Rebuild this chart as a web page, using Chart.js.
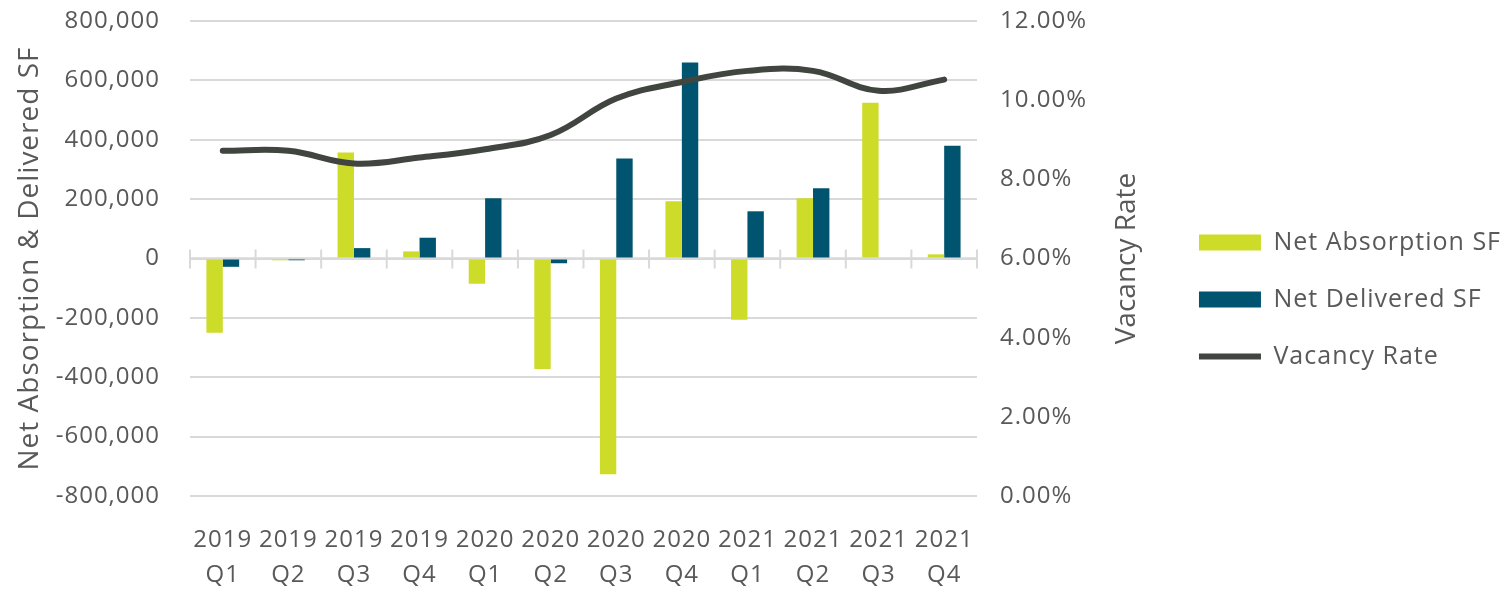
<!DOCTYPE html>
<html>
<head>
<meta charset="utf-8">
<script src="https://cdn.jsdelivr.net/npm/chart.js@4/dist/chart.umd.min.js"></script>
<style>
  html, body { margin: 0; padding: 0; background: #fff; }
  #wrap { width: 1511px; height: 589px; }
</style>
</head>
<body>
<div id="wrap"><canvas id="absorptionChart"></canvas></div>
<script>
// quarterly market stats
const years = ['2019', '2019', '2019', '2019', '2020', '2020', '2020', '2020', '2021', '2021', '2021', '2021'];
const quarters = ['Q1', 'Q2', 'Q3', 'Q4', 'Q1', 'Q2', 'Q3', 'Q4', 'Q1', 'Q2', 'Q3', 'Q4'];

const netAbsorption = [-250000, -6000, 357000, 24000, -85000, -372000, -727000, 193000, -206000, 203000, 525000, 14000];
const netDelivered = [-28000, -6000, 35000, 70000, 203000, -16000, 337000, 660000, 159000, 237000, 0, 380000];
const vacancyRate = [8.72, 8.72, 8.40, 8.55, 8.76, 9.12, 10.04, 10.46, 10.74, 10.74, 10.24, 10.52];

const sfTicks = [-800000, -600000, -400000, -200000, 0, 200000, 400000, 600000, 800000];
const rateTicks = [0, 2, 4, 6, 8, 10, 12];

const textColor = '#595959';
const gridColor = '#d9d9d9';
const spacing = '1px';

// wider letter spacing on all canvas text
const letterSpacing = {
  id: 'letterSpacing',
  beforeUpdate(chart) { chart.ctx.letterSpacing = spacing; },
  beforeDraw(chart) { chart.ctx.letterSpacing = spacing; }
};

// zero axis line with tick marks between the quarters
const zeroAxis = {
  id: 'zeroAxis',
  beforeDatasetsDraw(chart) {
    const {ctx, scales: {x, y}} = chart;
    const y0 = y.getPixelForValue(0);
    const half = (x.getPixelForTick(1) - x.getPixelForTick(0)) / 2;
    ctx.save();
    ctx.strokeStyle = gridColor;
    ctx.lineWidth = 2.5;
    ctx.beginPath();
    ctx.moveTo(chart.chartArea.left, y0);
    ctx.lineTo(chart.chartArea.right, y0);
    ctx.stroke();
    ctx.lineWidth = 2;
    for (let i = 0; i <= years.length; i++) {
      const px = x.getPixelForTick(0) - half + i * half * 2;
      ctx.beginPath();
      ctx.moveTo(px, y0 - 9);
      ctx.lineTo(px, y0 + 10);
      ctx.stroke();
    }
    ctx.restore();
  }
};

// right axis title, reads bottom to top
const rightTitle = {
  id: 'rightTitle',
  afterDraw(chart) {
    const {ctx, chartArea} = chart;
    ctx.save();
    ctx.letterSpacing = '0px';
    ctx.translate(1127, (chartArea.top + chartArea.bottom) / 2);
    ctx.rotate(-Math.PI / 2);
    ctx.font = '28px "Open Sans"';
    ctx.fillStyle = textColor;
    ctx.textAlign = 'center';
    ctx.textBaseline = 'middle';
    ctx.fillText('Vacancy Rate', 0, 0);
    ctx.restore();
  }
};

new Chart(document.getElementById('absorptionChart'), {
  type: 'bar',
  data: {
    labels: years.map((y, i) => [y, quarters[i]]),
    datasets: [
      {
        label: 'Net Absorption SF',
        data: netAbsorption,
        backgroundColor: '#cddc29',
        yAxisID: 'y',
        categoryPercentage: 0.5,
        barPercentage: 1.0,
        pointStyle: 'rect',
        order: 1
      },
      {
        label: 'Net Delivered SF',
        data: netDelivered,
        backgroundColor: '#00546f',
        yAxisID: 'y',
        categoryPercentage: 0.5,
        barPercentage: 1.0,
        pointStyle: 'rect',
        order: 1
      },
      {
        type: 'line',
        label: 'Vacancy Rate',
        data: vacancyRate,
        borderColor: '#40463f',
        backgroundColor: '#40463f',
        borderWidth: 6,
        borderCapStyle: 'round',
        tension: 0.4,
        pointRadius: 0,
        pointStyle: 'line',
        yAxisID: 'y1',
        order: 0
      }
    ]
  },
  options: {
    responsive: true,
    maintainAspectRatio: false,
    animation: false,
    layout: { padding: { top: 10, right: 0, bottom: 0, left: 0 } },
    plugins: {
      legend: {
        position: 'right',
        maxWidth: 346,
        labels: {
          usePointStyle: true,
          pointStyleWidth: 62,
          boxHeight: 16,
          padding: 32,
          color: textColor,
          font: { family: 'Open Sans', size: 25 },
          sort: (a, b) => a.datasetIndex - b.datasetIndex
        }
      },
      tooltip: { enabled: false }
    },
    scales: {
      x: {
        grid: { display: false },
        border: { display: false },
        ticks: {
          color: textColor,
          padding: 19,
          maxRotation: 0,
          autoSkip: false,
          font: { family: 'Open Sans', size: 24, lineHeight: 1.45 }
        },
        afterFit(scale) { scale.height = 93; }
      },
      y: {
        position: 'left',
        min: -800000,
        max: 800000,
        afterBuildTicks(scale) { scale.ticks = sfTicks.map(v => ({value: v})); },
        grid: {
          color: gridColor,
          lineWidth: 2,
          tickLength: 30,
          tickColor: 'rgba(0,0,0,0)'
        },
        border: { display: false },
        ticks: {
          color: textColor,
          padding: 0,
          font: { family: 'Open Sans', size: 24 },
          callback: v => v.toLocaleString('en-US')
        },
        title: {
          display: true,
          text: 'Net Absorption & Delivered SF',
          color: textColor,
          padding: { top: 13, bottom: 0 },
          font: { family: 'Open Sans', size: 28 }
        },
        afterFit(scale) {
          scale.width = 190;
          scale.paddingTop = 21;
        }
      },
      y1: {
        position: 'right',
        min: 0,
        max: 12,
        afterBuildTicks(scale) { scale.ticks = rateTicks.map(v => ({value: v})); },
        grid: {
          drawOnChartArea: false,
          tickLength: 23,
          tickColor: 'rgba(0,0,0,0)'
        },
        border: { display: false },
        ticks: {
          color: textColor,
          padding: 0,
          font: { family: 'Open Sans', size: 24 },
          callback: v => v.toFixed(2) + '%'
        },
        afterFit(scale) {
          scale.width = 190;
          scale.paddingTop = 21;
        }
      }
    }
  },
  plugins: [letterSpacing, zeroAxis, rightTitle]
});
</script>
</body>
</html>
